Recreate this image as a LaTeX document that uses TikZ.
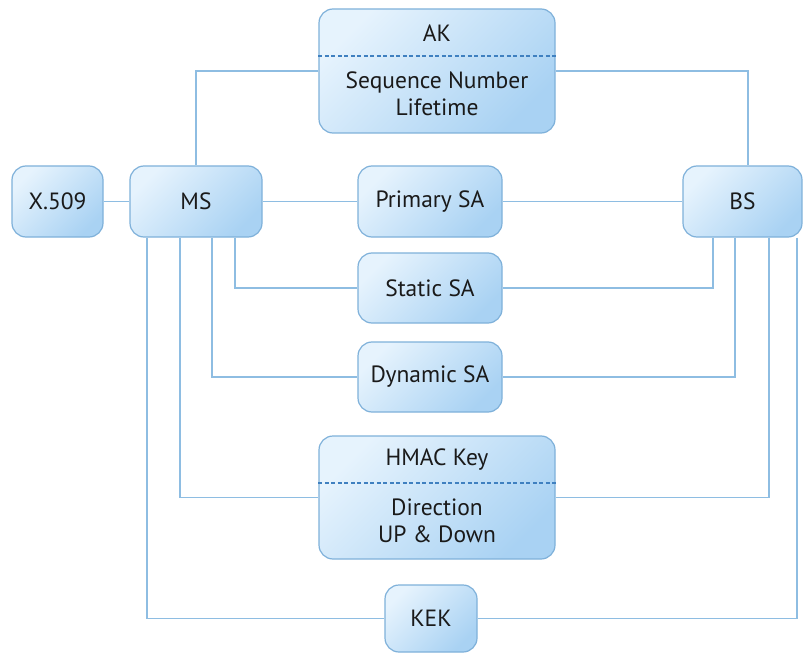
\documentclass[tikz,border=0pt]{standalone}
\usepackage{fontspec}
\setmainfont{PT Sans}
\usetikzlibrary{calc}
\definecolor{boxtop}{HTML}{E6F3FD}
\definecolor{boxbot}{HTML}{A9D2F3}
\definecolor{boxedge}{HTML}{7FB1DA}
\definecolor{wire}{HTML}{8EBDE2}
\definecolor{sep}{HTML}{3F80C0}
\definecolor{ink}{HTML}{1A1A1A}
\tikzset{
  keybox/.style={draw=boxedge, line width=1.2pt, rounded corners=14pt,
    top color=boxtop, bottom color=boxbot, shading angle=45,
    minimum width=#1, inner sep=0pt, font=\fontsize{23.5}{27}\selectfont,
    text=ink},
  wire/.style={draw=wire, line width=1.5pt},
  sepline/.style={draw=sep, line width=1.4pt, dash pattern=on 4pt off 2.5pt},
  lbl/.style={inner sep=0pt, font=\fontsize{23.5}{27}\selectfont, text=ink}
}
\begin{document}
\begin{tikzpicture}[x=1pt, y=-1pt]
\useasboundingbox[fill=white] (0,0) rectangle (803,655);

% boxes
\node[keybox=236pt, minimum height=124pt] (ak) at (437,71) {};
\node[keybox=91pt, minimum height=71pt] (x509) at (57.5,201.5) {X.509};
\node[keybox=132pt, minimum height=71pt] (ms) at (196,201.5) {MS};
\node[keybox=144pt, minimum height=71pt] (primary) at (430,201.5) {Primary SA};
\node[keybox=119pt, minimum height=71pt] (bs) at (742.5,201.5) {BS};
\node[keybox=144pt, minimum height=70pt] (static) at (430,288) {Static SA};
\node[keybox=144pt, minimum height=70pt] (dynamic) at (430,377) {Dynamic SA};
\node[keybox=236pt, minimum height=123pt] (hmac) at (437,497.5) {};
\node[keybox=92pt, minimum height=67pt] (kek) at (431,618.5) {KEK};

% AK record
\draw[sepline] (ak.west |- 0,56) -- (ak.east |- 0,56);
\node[lbl] (akname) at (437,33) {AK};
\node[lbl, align=center] (akattr) at (437,93.5) {Sequence Number\\Lifetime};

% HMAC record
\draw[sepline] (hmac.west |- 0,483) -- (hmac.east |- 0,483);
\node[lbl] (hmacname) at (437,460) {HMAC Key};
\node[lbl, align=center] (hmacattr) at (437,521) {Direction\\UP \& Down};

% connectors along the middle row
\draw[wire] (x509) -- (ms);
\draw[wire] (ms) -- (primary);
\draw[wire] (primary) -- (bs);

% AK to both stations
\draw[wire] (ak.west) -| (ms.north);
\draw[wire] (ak.east) -| ([xshift=5.5pt]bs.north);

% MS fan-out
\draw[wire] ([xshift=39pt]ms.south) |- (static.west);
\draw[wire] ([xshift=16pt]ms.south) |- (dynamic.west);
\draw[wire] ([xshift=-16pt]ms.south) |- (hmac.west);
\draw[wire] ([xshift=-49pt]ms.south) |- (kek.west);

% BS fan-out
\draw[wire] ([xshift=-29.5pt]bs.south) |- (static.east);
\draw[wire] ([xshift=-7.5pt]bs.south) |- (dynamic.east);
\draw[wire] ([xshift=26.5pt]bs.south) |- (hmac.east);
\draw[wire] ([xshift=54.5pt]bs.south) |- (kek.east);
\end{tikzpicture}
\end{document}
